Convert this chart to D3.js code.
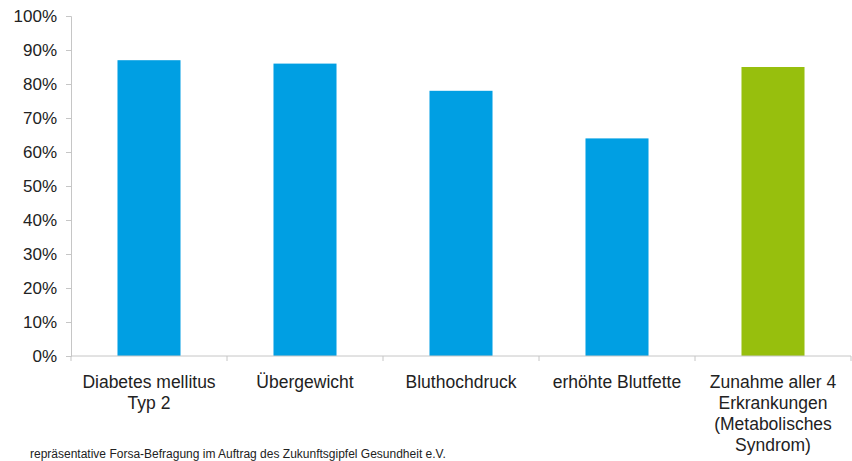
<!DOCTYPE html>
<html>
<head>
<meta charset="utf-8">
<script src="https://cdn.jsdelivr.net/npm/d3@7"></script>
<style>
  body { margin: 0; background: #fff; }
  text { font-family: "Liberation Sans", Arial, sans-serif; }
</style>
</head>
<body>
<div id="chart"></div>
<script>
// data
var categories = ["Diabetes mellitus|Typ 2", "Übergewicht", "Bluthochdruck", "erhöhte Blutfette",
                  "Zunahme aller 4|Erkrankungen|(Metabolisches|Syndrom)"];
var values = [0.87, 0.86, 0.78, 0.64, 0.85];
var barColors = ["#009fe3", "#009fe3", "#009fe3", "#009fe3", "#97bf0d"];
var yTicks = [0, 0.1, 0.2, 0.3, 0.4, 0.5, 0.6, 0.7, 0.8, 0.9, 1.0];
var footnote = "repräsentative Forsa-Befragung im Auftrag des Zukunftsgipfel Gesundheit e.V.";

// size and margin
var width = 852;
var height = 461;
var margin = {top: 16, right: 1, bottom: 105, left: 71};
var inner_width = width - margin.left - margin.right;
var inner_height = height - margin.top - margin.bottom;

var axis_color = "#c6c6c6";
var text_color = "#222";

var svg = d3.select("#chart")
            .append("svg")
            .attr("width", width)
            .attr("height", height);

var g = svg.append("g")
           .attr("transform", "translate(" + margin.left + "," + margin.top + ")");

// scales
var pad = 0.596;
var xScale = d3.scaleBand()
               .domain(categories)
               .range([0, inner_width])
               .paddingInner(pad)
               .paddingOuter(pad / 2);
var yScale = d3.scaleLinear()
               .domain([0, 1])
               .range([inner_height, 0]);

// y axis
var yAxis = g.append("g")
             .call(d3.axisLeft(yScale)
                     .tickValues(yTicks)
                     .tickFormat(d3.format(".0%"))
                     .tickSize(5)
                     .tickPadding(9));
yAxis.select(".domain").attr("stroke", axis_color);
yAxis.selectAll(".tick line").attr("stroke", axis_color);
yAxis.selectAll(".tick text")
     .attr("fill", text_color)
     .attr("font-size", 17)
     .style("font-family", "'Liberation Sans', Arial, sans-serif");

// bars
g.selectAll(".bar")
 .data(values)
 .enter().append("rect")
 .attr("class", "bar")
 .attr("x", function(d, i) { return xScale(categories[i]); })
 .attr("width", xScale.bandwidth())
 .attr("y", function(d) { return yScale(d); })
 .attr("height", function(d) { return inner_height - yScale(d); })
 .attr("fill", function(d, i) { return barColors[i]; });

// x axis line + boundary ticks
g.append("line")
 .attr("x1", 0).attr("x2", inner_width)
 .attr("y1", inner_height).attr("y2", inner_height)
 .attr("stroke", axis_color);
var boundaries = categories.map(function(c) { return xScale(c) - xScale.step() * pad / 2; });
boundaries.push(inner_width);
g.selectAll(".xtick")
 .data(boundaries)
 .enter().append("line")
 .attr("class", "xtick")
 .attr("x1", function(d) { return d; }).attr("x2", function(d) { return d; })
 .attr("y1", inner_height).attr("y2", inner_height + 5)
 .attr("stroke", axis_color);

// category labels
var labels = g.selectAll(".xlabel")
              .data(categories)
              .enter().append("text")
              .attr("class", "xlabel")
              .attr("text-anchor", "middle")
              .attr("fill", text_color)
              .attr("font-size", 17.5)
              .attr("transform", function(d) {
                return "translate(" + (xScale(d) + xScale.bandwidth() / 2) + "," + (inner_height + 32) + ")";
              });
labels.selectAll("tspan")
      .data(function(d) { return d.split("|"); })
      .enter().append("tspan")
      .attr("x", 0)
      .attr("y", function(d, i) { return i * 21; })
      .text(function(d) { return d; });

// footnote
svg.append("text")
   .attr("x", 30)
   .attr("y", 458)
   .attr("fill", text_color)
   .attr("font-size", 12)
   .text(footnote);
</script>
</body>
</html>
